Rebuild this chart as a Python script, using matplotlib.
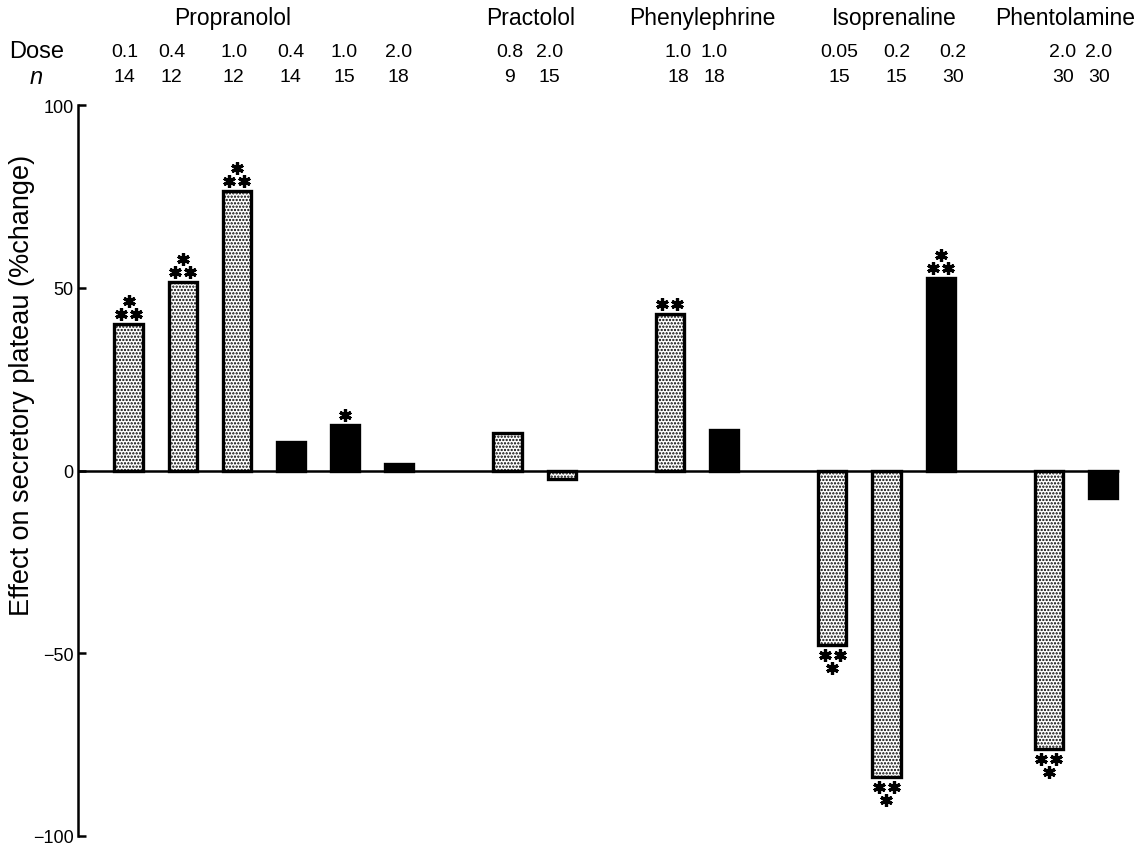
"""Effect of adrenergic drugs on the secretory plateau (% change)."""

import matplotlib
matplotlib.use("Agg")
import matplotlib.pyplot as plt
import numpy as np

plt.rcParams["font.family"] = ["Liberation Sans", "DejaVu Sans"]
plt.rcParams["hatch.linewidth"] = 1.1

# ── data ──
drugs = ["Propranolol", "Practolol", "Phenylephrine", "Isoprenaline", "Phentolamine"]
group_sizes = [6, 2, 2, 3, 2]
doses = ["0.1", "0.4", "1.0", "0.4", "1.0", "2.0",
         "0.8", "2.0",
         "1.0", "1.0",
         "0.05", "0.2", "0.2",
         "2.0", "2.0"]
n_obs = ["14", "12", "12", "14", "15", "18",
         "9", "15",
         "18", "18",
         "15", "15", "30",
         "30", "30"]
effect = [40, 51.7, 76.5, 7.9, 12.5, 1.9,
          10.2, -2.2,
          42.8, 11,
          -47.8, -83.9, 52.8,
          -76.2, -7.5]
# True = stippled bar, False = solid black bar
stippled = [True, True, True, False, False, False,
            True, True,
            True, False,
            True, True, False,
            True, False]
# number of asterisks over/under each bar
stars = [3, 3, 3, 0, 1, 0,
         0, 0,
         2, 0,
         3, 3, 3,
         3, 0]

# ── layout ──
pos = []
x0 = 0
for size in group_sizes:
    pos.extend(range(x0, x0 + size))
    x0 += size + 1
pos = np.array(pos, dtype=float)
group_centres = []
i = 0
for size in group_sizes:
    group_centres.append(pos[i:i + size].mean())
    i += size
header_shift = [-0.57, -0.08, 0.1, 0.14, -0.2]
px = 1 / 54.14  # one pixel in x data units
label_shift = np.array([-4, -11, -3, 0, -1, -1, 2, -12, 8, -10, 7, 10, 12, 14, -4]) * px
bar_w = 0.52

fig = plt.figure(figsize=(11.44, 8.45), dpi=100)
ax = fig.add_axes([78 / 1144, 0.01, 1 - 78 / 1144, 0.864])
ax.set_xlim(-(128.5 - 78) * px, (1144 - 128.5) * px)
ax.set_ylim(-100, 100)

for x, v, s in zip(pos, effect, stippled):
    if s:
        ax.bar(x, v, bar_w, facecolor="white", edgecolor="black", hatch=".....",
               linewidth=2.4, zorder=3)
    else:
        ax.bar(x, v, bar_w, facecolor="black", edgecolor="black", linewidth=2.4, zorder=3)

# zero line from the axis to the last bar
ax.plot([ax.get_xlim()[0], pos[-1] + bar_w / 2 + 0.03], [0, 0], color="black",
        lw=1.8, zorder=4, solid_capstyle="butt")

# asterisks
r1, r2, dx = 2.8, 6.3, 0.14
sx, sy = [], []
for x, v, k in zip(pos, effect, stars):
    sign = 1 if v > 0 else -1
    if k == 1:
        sx += [x]
        sy += [v + sign * r1]
    elif k >= 2:
        sx += [x - dx, x + dx]
        sy += [v + sign * r1] * 2
    if k == 3:
        sx += [x]
        sy += [v + sign * r2]
ax.plot(sx, sy, ls="none", marker=(6, 2, 0), ms=9, mew=2.3, color="black",
        clip_on=False, zorder=5)

# header rows
for name, c, sh in zip(drugs, group_centres, header_shift):
    ax.text(c + sh, 124.2, name, ha="center", va="center", fontsize=16.5, clip_on=False)
for x, d, n, sh in zip(pos, doses, n_obs, label_shift):
    ax.text(x + sh, 114.9, d, ha="center", va="center", fontsize=14, clip_on=False)
    ax.text(x + sh, 108.0, n, ha="center", va="center", fontsize=14, clip_on=False)
fig.text(9 / 1144, 1 - 52 / 845, "Dose", ha="left", va="center", fontsize=17)
fig.text(36 / 1144, 1 - 77 / 845, "n", ha="center", va="center", fontsize=17,
         style="italic")

fig.text(22 / 1144, 1 - 385 / 845, "Effect on secretory plateau (%change)",
         rotation=90, ha="center", va="center", fontsize=19.5)

for side in ["top", "right", "bottom"]:
    ax.spines[side].set_visible(False)
ax.spines["left"].set_linewidth(1.8)
ax.spines["left"].set_bounds(-100, 100)
ax.set_xticks([])
ax.set_yticks([-100, -50, 0, 50, 100])
ax.set_yticklabels(["\u2212100", "\u221250", "0", "50", "100"])
ax.tick_params(axis="y", direction="in", length=6, width=1.8, pad=3, labelsize=13)

fig.savefig("out.png", dpi=100)
